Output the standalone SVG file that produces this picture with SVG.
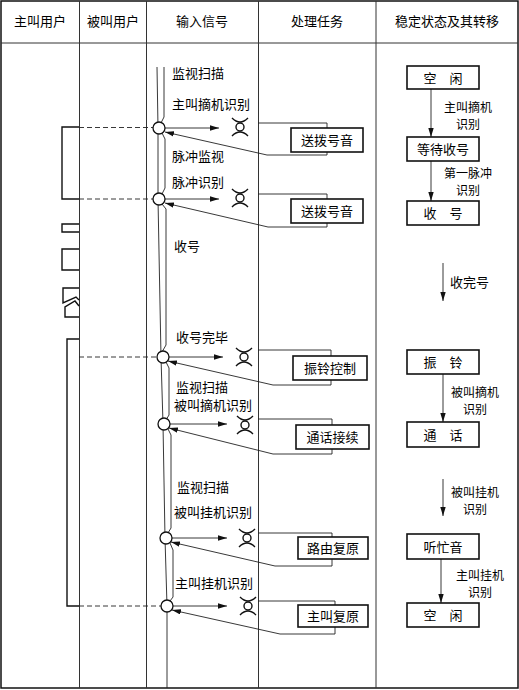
<svg xmlns="http://www.w3.org/2000/svg" width="519" height="690" viewBox="0 0 519 690">
<style>
text{font-family:"Noto Sans CJK SC","Noto Sans CJK JP",sans-serif;font-size:13px;fill:#000}
.c{text-anchor:middle}
.sm{font-size:12px}
.grid{stroke:#333;stroke-width:1;fill:none}
.thin{stroke:#222;stroke-width:0.9;fill:none}
.wave{stroke:#111;stroke-width:1.4;fill:none}
.dash{stroke:#222;stroke-width:0.9;stroke-dasharray:5 3;fill:none}
.box{fill:#fff;stroke:#111;stroke-width:1.6}
.circ{fill:#fff;stroke:#111;stroke-width:1.3}
.sym{fill:none;stroke:#111;stroke-width:1.4}
</style>
<defs>
<marker id="ah" viewBox="0 0 10 6" refX="10" refY="3" markerWidth="9" markerHeight="5.5" markerUnits="userSpaceOnUse" orient="auto">
<path d="M0,0 L10,3 L0,6 Z" fill="#111"/>
</marker>
<g id="xs" class="sym">
<circle cx="0" cy="0" r="4" fill="#fff"/>
<path d="M-8,-9 Q0,-1 8,-9 M-8,9 Q0,1 8,9"/>
</g>
</defs>

<g id="table">
<rect x="1" y="1" width="517" height="687" fill="none" stroke="#111" stroke-width="1.5"/>
<line class="grid" x1="1" y1="43" x2="518" y2="43"/>
<line class="grid" x1="79.5" y1="1" x2="79.5" y2="688"/>
<line class="grid" x1="146.5" y1="1" x2="146.5" y2="688"/>
<line class="grid" x1="258.5" y1="1" x2="258.5" y2="688"/>
<line class="grid" x1="376" y1="1" x2="376" y2="688" stroke-width="1.3"/>
<text class="c" x="40" y="26">主叫用户</text>
<text class="c" x="113" y="26">被叫用户</text>
<text class="c" x="202" y="26">输入信号</text>
<text class="c" x="317" y="26">处理任务</text>
<text class="c" x="447" y="26">稳定状态及其转移</text>
</g>

<g id="waveform">
<path class="wave" d="M79,127 H62 V199 H79"/>
<path class="wave" d="M79,224 H62 V232 H79"/>
<path class="wave" d="M79,249 H62 V270 H79"/>
<path class="wave" d="M79,288 H63 V303 L76,297 L79,300"/>
<path class="wave" d="M79,306 L75,301 L65,307 V317 H79"/>
<path class="wave" d="M79,339 H67 V606 H79"/>
</g>

<g id="connectors">
<line class="dash" x1="79" y1="127.5" x2="153" y2="127.5"/>
<line class="dash" x1="79" y1="199" x2="153" y2="199"/>
<line class="dash" x1="79" y1="357" x2="157" y2="357"/>
<line class="dash" x1="79" y1="606" x2="161" y2="606"/>
<polyline class="thin" points="157,67 158,128 158,199 161,357 163,424 165,538 167,606 167,688"/>
<polyline class="thin" points="164,67 164,117 161,123"/>
<polyline class="thin" points="162,133 165,139 165,188 162,194"/>
<polyline class="thin" points="162,204 166,209 166,345 162,352"/>
<polyline class="thin" points="166,362 169,368 169,415 166,420"/>
<polyline class="thin" points="168,429 171,435 171,528 168,533"/>
<polyline class="thin" points="170,543 173,550 173,597 170,601"/>
<line class="thin" x1="165" y1="128" x2="219" y2="128" marker-end="url(#ah)"/>
<line class="thin" x1="165" y1="199" x2="219" y2="199" marker-end="url(#ah)"/>
<line class="thin" x1="169" y1="357" x2="223" y2="357" marker-end="url(#ah)"/>
<line class="thin" x1="170" y1="424" x2="227" y2="424" marker-end="url(#ah)"/>
<line class="thin" x1="172" y1="538" x2="227" y2="538" marker-end="url(#ah)"/>
<line class="thin" x1="173" y1="606" x2="227" y2="606" marker-end="url(#ah)"/>
<path class="thin" d="M258,123 H327 V128"/>
<path class="thin" d="M327,152 V155 H267 L165,132" marker-end="url(#ah)"/>
<path class="thin" d="M258,194 H327 V199"/>
<path class="thin" d="M327,223 V227 H268 L165,203" marker-end="url(#ah)"/>
<path class="thin" d="M258,350 H331 V356"/>
<path class="thin" d="M331,380 V385 H273 L168,361" marker-end="url(#ah)"/>
<path class="thin" d="M258,419 H332 V425"/>
<path class="thin" d="M332,449 V454 H273 L169,428" marker-end="url(#ah)"/>
<path class="thin" d="M258,533 H332 V537"/>
<path class="thin" d="M332,559 V566 H275 L171,542" marker-end="url(#ah)"/>
<path class="thin" d="M258,601 H335 V605"/>
<path class="thin" d="M335,627 V634 H280 L172,610" marker-end="url(#ah)"/>
<line class="thin" x1="431" y1="89" x2="431" y2="137" marker-end="url(#ah)"/>
<line class="thin" x1="431" y1="161" x2="431" y2="201" marker-end="url(#ah)"/>
<line class="thin" x1="443" y1="263" x2="443" y2="301" marker-end="url(#ah)"/>
<line class="thin" x1="443" y1="374" x2="443" y2="422" marker-end="url(#ah)" stroke="#777"/>
<line class="thin" x1="443" y1="479" x2="443" y2="516" marker-end="url(#ah)"/>
<line class="thin" x1="441" y1="559" x2="441" y2="603" marker-end="url(#ah)"/>
</g>

<g id="signal-labels">
<text x="172" y="78">监视扫描</text>
<text x="172" y="109">主叫摘机识别</text>
<text x="172" y="161">脉冲监视</text>
<text x="172" y="187">脉冲识别</text>
<text x="174" y="251">收号</text>
<text x="176" y="342">收号完毕</text>
<text x="176" y="392">监视扫描</text>
<text x="174" y="410">被叫摘机识别</text>
<text x="177" y="492">监视扫描</text>
<text x="174" y="517">被叫挂机识别</text>
<text x="175" y="588">主叫挂机识别</text>
</g>

<g id="c1"><circle class="circ" cx="159" cy="128" r="6"/><use href="#xs" x="240" y="127"/></g>
<g id="c2"><circle class="circ" cx="159" cy="199" r="6"/><use href="#xs" x="240" y="198"/></g>
<g id="c3"><circle class="circ" cx="163" cy="357" r="6"/><use href="#xs" x="244" y="357"/></g>
<g id="c4"><circle class="circ" cx="164" cy="424" r="6"/><use href="#xs" x="245" y="425"/></g>
<g id="c5"><circle class="circ" cx="166" cy="538" r="6"/><use href="#xs" x="247" y="538"/></g>
<g id="c6"><circle class="circ" cx="167" cy="606" r="6"/><use href="#xs" x="248" y="606"/></g>

<g id="t1"><rect class="box" x="291" y="128" width="72" height="24"/><text class="c" x="327" y="145">送拨号音</text></g>
<g id="t2"><rect class="box" x="291" y="199" width="72" height="24"/><text class="c" x="327" y="216">送拨号音</text></g>
<g id="t3"><rect class="box" x="293" y="356" width="74" height="24"/><text class="c" x="330" y="373">振铃控制</text></g>
<g id="t4"><rect class="box" x="296" y="425" width="73" height="24"/><text class="c" x="332.5" y="442">通话接续</text></g>
<g id="t5"><rect class="box" x="298" y="537" width="70" height="22"/><text class="c" x="333" y="553">路由复原</text></g>
<g id="t6"><rect class="box" x="298" y="605" width="70" height="22"/><text class="c" x="333" y="621">主叫复原</text></g>

<g id="s1"><rect class="box" x="407" y="66" width="72" height="23"/><text class="c" x="443" y="82.5">空　闲</text></g>
<g id="s2"><rect class="box" x="407" y="137" width="72" height="24"/><text class="c" x="443" y="154">等待收号</text></g>
<g id="s3"><rect class="box" x="407" y="201" width="72" height="24"/><text class="c" x="443" y="218">收　号</text></g>
<g id="s4"><rect class="box" x="407" y="350" width="72" height="24"/><text class="c" x="443" y="367">振　铃</text></g>
<g id="s5"><rect class="box" x="407" y="422" width="72" height="25"/><text class="c" x="443" y="439.5">通　话</text></g>
<g id="s6"><rect class="box" x="407" y="534" width="72" height="25"/><text class="c" x="443" y="551.5">听忙音</text></g>
<g id="s7"><rect class="box" x="407" y="603" width="72" height="24"/><text class="c" x="443" y="620">空　闲</text></g>

<g id="transition-labels">
<text class="c sm" x="468" y="112">主叫摘机</text>
<text class="c sm" x="468" y="129">识别</text>
<text class="c sm" x="468" y="178">第一脉冲</text>
<text class="c sm" x="468" y="195">识别</text>
<text x="450" y="287">收完号</text>
<text class="c sm" x="475" y="397">被叫摘机</text>
<text class="c sm" x="475" y="414">识别</text>
<text class="c sm" x="475" y="497">被叫挂机</text>
<text class="c sm" x="475" y="514">识别</text>
<text class="c sm" x="480" y="580">主叫挂机</text>
<text class="c sm" x="480" y="597">识别</text>
</g>
</svg>
